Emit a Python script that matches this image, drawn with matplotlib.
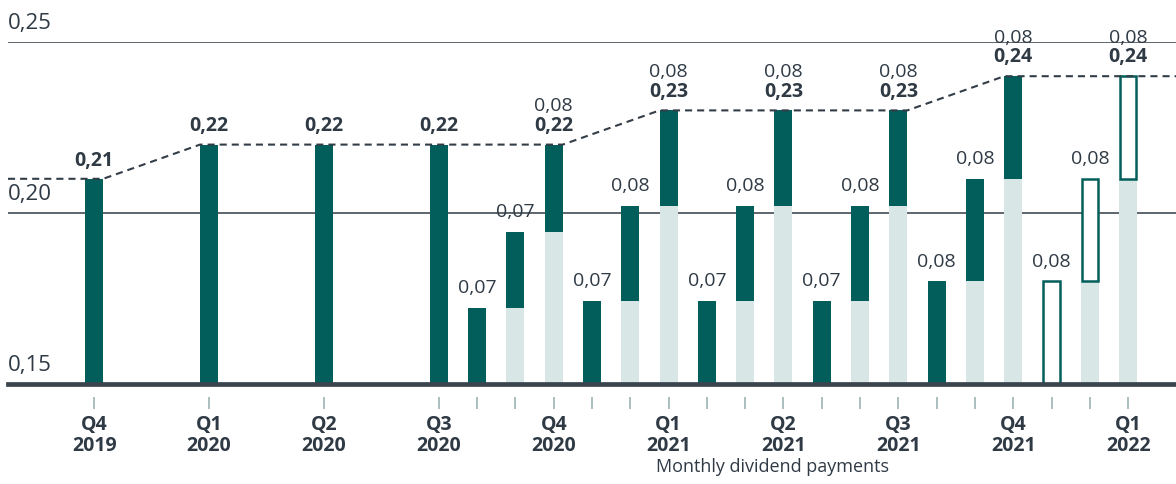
import matplotlib.pyplot as plt
import matplotlib.transforms as mtransforms

plt.rcParams['font.family'] = ['Open Sans', 'DejaVu Sans']

quarter_labels = ['Q4\n2019', 'Q1\n2020', 'Q2\n2020', 'Q3\n2020', 'Q4\n2020',
                  'Q1\n2021', 'Q2\n2021', 'Q3\n2021', 'Q4\n2021', 'Q1\n2022']
quarter_totals = [0.21, 0.22, 0.22, 0.22, 0.22, 0.23, 0.23, 0.23, 0.24, 0.24]

# quarters paid out monthly (three payments each)
monthly_quarters = ['Q4\n2020', 'Q1\n2021', 'Q2\n2021', 'Q3\n2021', 'Q4\n2021', 'Q1\n2022']
monthly_payments = [[0.07, 0.07, 0.08],
                    [0.07, 0.08, 0.08],
                    [0.07, 0.08, 0.08],
                    [0.07, 0.08, 0.08],
                    [0.08, 0.08, 0.08],
                    [0.08, 0.08, 0.08]]
forecast_quarters = ['Q1\n2022']

y_ticks = [0.15, 0.20, 0.25]
x_title = 'Monthly dividend payments'

dark = '#025e5a'
light = '#d8e6e5'
ink = '#2f3a45'
tick_col = '#9db3b3'
base = y_ticks[0]
w = 0.47


def fmt(v):
    return f'{v:.2f}'.replace('.', ',')


fig = plt.figure(figsize=(11.76, 4.84), dpi=100)
ax = fig.add_axes([8 / 1176, 100 / 484, 1168 / 1176, 342 / 484])
ax.set_xlim(-2.25, 28.25)
ax.set_ylim(y_ticks[0], y_ticks[-1])
ax.set_axis_off()

# grid lines and y labels
for v in y_ticks[1:]:
    ax.axhline(v, color='#333d47', lw=1.1, zorder=0)
ax.axhline(base, color='#3b454e', lw=3.4, zorder=4, clip_on=False)
for v in y_ticks:
    ax.annotate(fmt(v), xy=(0, v), xycoords=('axes fraction', 'data'),
                xytext=(0, 9.5), textcoords='offset points',
                ha='left', va='baseline', fontsize=16, color=ink,
                annotation_clip=False)

tick_months = []
for i, (q, total) in enumerate(zip(quarter_labels, quarter_totals)):
    m = 3 * i
    if q not in monthly_quarters:
        ax.bar(m, total - base, bottom=base, width=w, color=dark, zorder=2)
        ax.annotate(fmt(total), xy=(m, total), xytext=(0, 9.5),
                    textcoords='offset points', ha='center', va='baseline',
                    fontsize=14, fontweight='bold', color=ink)
        tick_months.append(m)
        continue
    pays = monthly_payments[monthly_quarters.index(q)]
    scale = (total - base) / sum(pays)
    cum = 0
    for k, p in enumerate(pays):
        x = m - 2 + k
        tick_months.append(x)
        if cum > 0:
            ax.bar(x, cum * scale, bottom=base, width=w, color=light, zorder=2)
        if q in forecast_quarters:
            ax.bar(x, p * scale, bottom=base + cum * scale, width=w * 0.9,
                   facecolor='white', edgecolor=dark, lw=1.8, zorder=2)
        else:
            ax.bar(x, p * scale, bottom=base + cum * scale, width=w,
                   color=dark, zorder=2)
        cum += p
        top = base + cum * scale
        if k == 2:
            ax.annotate(fmt(total), xy=(x, top), xytext=(0, 10),
                        textcoords='offset points', ha='center', va='baseline',
                        fontsize=14, fontweight='bold', color=ink)
            ax.annotate(fmt(p), xy=(x, top), xytext=(0, 24),
                        textcoords='offset points', ha='center', va='baseline',
                        fontsize=14, color=ink)
        else:
            ax.annotate(fmt(p), xy=(x, top), xytext=(0, 10.5),
                        textcoords='offset points', ha='center', va='baseline',
                        fontsize=14, color=ink)

# dashed line joining quarterly totals
lo, hi = ax.get_xlim()
dash_x = [lo]
dash_y = [quarter_totals[0]]
for i in range(1, len(quarter_totals)):
    if quarter_totals[i] != quarter_totals[i - 1]:
        dash_x += [3 * (i - 1) + w / 2, 3 * i - w / 2]
        dash_y += [quarter_totals[i - 1], quarter_totals[i]]
dash_x.append(hi)
dash_y.append(quarter_totals[-1])
ax.plot(dash_x, dash_y, color='#333d47', lw=1.5, dashes=(3.4, 2.4), zorder=3)

# month ticks and quarter labels below the axis
trans = mtransforms.blended_transform_factory(ax.transData, ax.transAxes)
ax.vlines(tick_months, -0.038, -0.072, transform=trans, color=tick_col,
          lw=1.2, clip_on=False)
for i, q in enumerate(quarter_labels):
    top_line, bottom_line = q.split('\n')
    ax.text(3 * i, -(430 - 384) / 342, top_line, transform=trans, ha='center',
            va='baseline', fontsize=14, fontweight='bold', color=ink)
    ax.text(3 * i, -(451 - 384) / 342, bottom_line, transform=trans,
            ha='center', va='baseline', fontsize=14, fontweight='bold', color=ink)

fig.text(773 / 1176, 1 - 472 / 484, x_title, ha='center', va='baseline',
         fontsize=13, color=ink)

fig.savefig('out.png', dpi=100)
